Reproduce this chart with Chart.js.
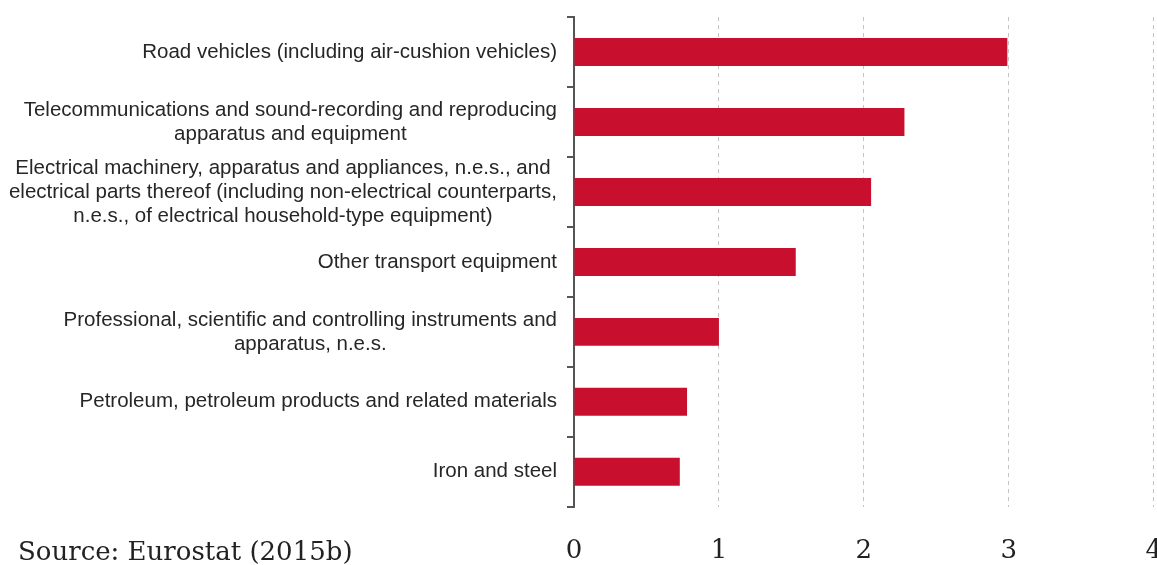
<!DOCTYPE html>
<html>
<head>
<meta charset="utf-8">
<script src="https://cdn.jsdelivr.net/npm/chart.js@4.4.1/dist/chart.umd.min.js"></script>
<style>
  html, body { margin: 0; padding: 0; background: #fff; overflow: hidden; }
  #wrap { position: relative; width: 1191px; height: 610px; }
  #source {
    position: absolute; left: 18px; top: 536px;
    font-family: "DejaVu Serif", serif; font-size: 26px; line-height: 30px; color: #222;
  }
</style>
</head>
<body>
<div id="wrap">
  <canvas id="chart" width="1191" height="610"></canvas>
  <div id="source">Source: Eurostat (2015b)</div>
</div>
<script>
// category labels, one entry per bar, split into the lines shown on the chart
const categories = [
  ["Road vehicles (including air-cushion vehicles)"],
  ["Telecommunications and sound-recording and reproducing", "apparatus and equipment"],
  ["Electrical machinery, apparatus and appliances, n.e.s., and",
   "electrical parts thereof (including non-electrical counterparts,",
   "n.e.s., of electrical household-type equipment)"],
  ["Other transport equipment"],
  ["Professional, scientific and controlling instruments and", "apparatus, n.e.s."],
  ["Petroleum, petroleum products and related materials"],
  ["Iron and steel"]
];
const values = [2.99, 2.28, 2.05, 1.53, 1.0, 0.78, 0.73];
const tickLabels = ["0", "1", "2", "3", "4"];

// y labels: block right-aligned to the axis, lines centred inside the block
const categoryLabels = {
  id: "categoryLabels",
  afterDraw(chart) {
    const y = chart.scales.y;
    const ctx = chart.ctx;
    ctx.save();
    ctx.font = '20.5px "Liberation Sans", Arial, sans-serif';
    ctx.fillStyle = "#262626";
    ctx.textAlign = "center";
    ctx.textBaseline = "middle";
    const right = chart.chartArea.left - 17;
    const lineHeight = 24;
    categories.forEach((lines, i) => {
      const widest = Math.max(...lines.map((l) => ctx.measureText(l).width));
      const cx = right - widest / 2;
      const cy = y.getPixelForValue(i);
      lines.forEach((line, j) => {
        ctx.fillText(line, cx, cy + (j - (lines.length - 1) / 2) * lineHeight);
      });
    });
    ctx.restore();
  }
};

const ctx = document.getElementById("chart").getContext("2d");
new Chart(ctx, {
  type: "bar",
  data: {
    labels: categories.map((c) => c.join(" ")),
    datasets: [
      {
        data: values,
        backgroundColor: "#c8102e",
        categoryPercentage: 1,
        barPercentage: 0.4,
      },
    ],
  },
  options: {
    indexAxis: "y",
    responsive: false,
    animation: false,
    layout: {
      padding: { top: 17, right: 25, bottom: 14, left: 0 },
    },
    plugins: {
      legend: { display: false },
      tooltip: { enabled: false },
    },
    scales: {
      x: {
        min: 0,
        max: 4,
        ticks: {
          stepSize: 1,
          padding: 29,
          color: "#222",
          font: { family: "DejaVu Serif", size: 26 },
          callback: (value, index) => tickLabels[index],
        },
        grid: {
          drawTicks: false,
          lineWidth: 1,
          color: (c) => (c.index === 0 ? "rgba(0,0,0,0)" : "#c4c4c4"),
        },
        border: { display: false, dash: [4, 4] },
      },
      y: {
        ticks: { display: false },
        grid: {
          offset: true,
          drawOnChartArea: false,
          drawTicks: true,
          tickLength: 7,
          color: "#555",
          lineWidth: 2,
        },
        border: { color: "#555", width: 2 },
        afterFit(scale) {
          scale.width = 574;
        },
      },
    },
  },
  plugins: [categoryLabels],
});
</script>
</body>
</html>
